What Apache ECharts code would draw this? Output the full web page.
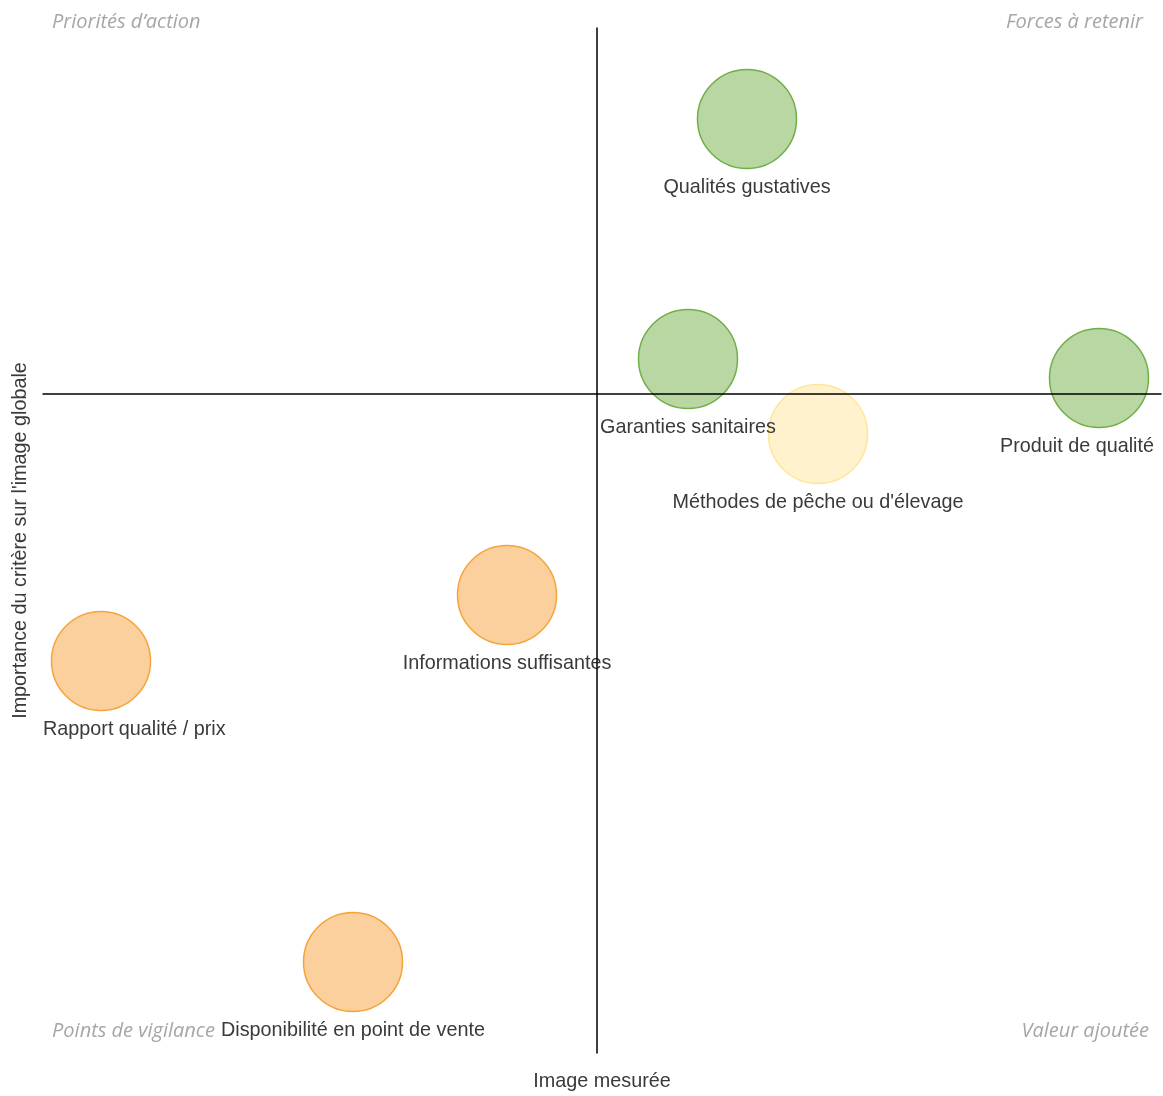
<!DOCTYPE html>
<html>
<head>
<meta charset="utf-8">
<script src="https://cdn.jsdelivr.net/npm/echarts@6/dist/echarts.min.js"></script>
<style>
html,body{margin:0;padding:0;background:#fff;}
#chart{width:1163px;height:1096px;}
</style>
</head>
<body>
<div id="chart"></div>
<script>
// ---- Data ----
var names = [
  "Qualités gustatives",
  "Garanties sanitaires",
  "Produit de qualité",
  "Méthodes de pêche ou d'élevage",
  "Informations suffisantes",
  "Rapport qualité / prix",
  "Disponibilité en point de vente"
];
var xValues = [15.0, 9.1, 50.2, 22.1, -9.0, -49.6, -24.4];
var yValues = [27.5, 3.5, 1.6, -4.0, -20.1, -26.7, -56.8];
var groups = ["force", "force", "force", "neutre", "vigilance", "vigilance", "vigilance"];
var xRange = [-55.4, 56.4];
var yRange = [-65.9, 36.6];
var quadrantLabels = ["Priorités d’action", "Forces à retenir", "Points de vigilance", "Valeur ajoutée"];
var xAxisName = "Image mesurée";
var yAxisName = "Importance du critère sur l'image globale";

// ---- Styles ----
var groupStyles = {
  force: { color: "#b9d7a2", borderColor: "#72ae48" },
  vigilance: { color: "#fbd09c", borderColor: "#f6a33b" },
  neutre: { color: "#fff2cc", borderColor: "#ffe699" }
};
var gridLeft = 43, gridRight = 2, gridTop = 28, gridBottom = 43;
var W = 1163;
var FS = 19.8;
var TXT = "#3a3a3a";

var data = names.map(function (n, i) {
  var s = groupStyles[groups[i]];
  return {
    name: n,
    value: [xValues[i], yValues[i]],
    itemStyle: { color: s.color, borderColor: s.borderColor, borderWidth: 1.5, opacity: 1 }
  };
});

var cornerStyle = { fill: "#a6a6a6", fontSize: 20, fontStyle: "italic", fontFamily: "Open Sans" };

var chart = echarts.init(document.getElementById("chart"));
chart.setOption({
  animation: false,
  backgroundColor: "#fff",
  grid: { left: gridLeft, right: gridRight, top: gridTop, bottom: gridBottom, containLabel: false, outerBoundsMode: "none" },
  xAxis: {
    type: "value", min: xRange[0], max: xRange[1], z: 5,
    name: xAxisName, nameLocation: "middle", nameGap: 19,
    nameTextStyle: { color: TXT, fontSize: FS, fontFamily: "Liberation Sans" },
    axisLine: { onZero: true, lineStyle: { color: "#000", width: 1.5 } },
    axisTick: { show: false }, axisLabel: { show: false }, splitLine: { show: false }
  },
  yAxis: {
    type: "value", min: yRange[0], max: yRange[1], z: 5,
    name: yAxisName, nameLocation: "middle", nameGap: 12,
    nameTextStyle: { color: TXT, fontSize: FS, fontFamily: "Liberation Sans" },
    axisLine: { onZero: true, lineStyle: { color: "#000", width: 1.5 } },
    axisTick: { show: false }, axisLabel: { show: false }, splitLine: { show: false }
  },
  graphic: [
    { type: "text", left: 52, top: 12, style: Object.assign({ text: quadrantLabels[0] }, cornerStyle) },
    { type: "text", right: W - 1143, top: 12, style: Object.assign({ text: quadrantLabels[1] }, cornerStyle) },
    { type: "text", left: 52, top: 1021, style: Object.assign({ text: quadrantLabels[2] }, cornerStyle) },
    { type: "text", right: W - 1149, top: 1021, style: Object.assign({ text: quadrantLabels[3] }, cornerStyle) }
  ],
  series: [{
    type: "scatter",
    symbolSize: 99,
    z: 2,
    data: data,
    label: {
      show: true, position: "bottom", distance: 8,
      formatter: "{b}", color: TXT, fontSize: FS, fontFamily: "Liberation Sans"
    },
    labelLayout: function (p) {
      var r = p.labelRect, dx = 0;
      if (r.x < gridLeft) dx = gridLeft - r.x;
      if (r.x + r.width > W - 9) dx = (W - 9) - (r.x + r.width);
      return { dx: dx };
    }
  }]
});
</script>
</body>
</html>
